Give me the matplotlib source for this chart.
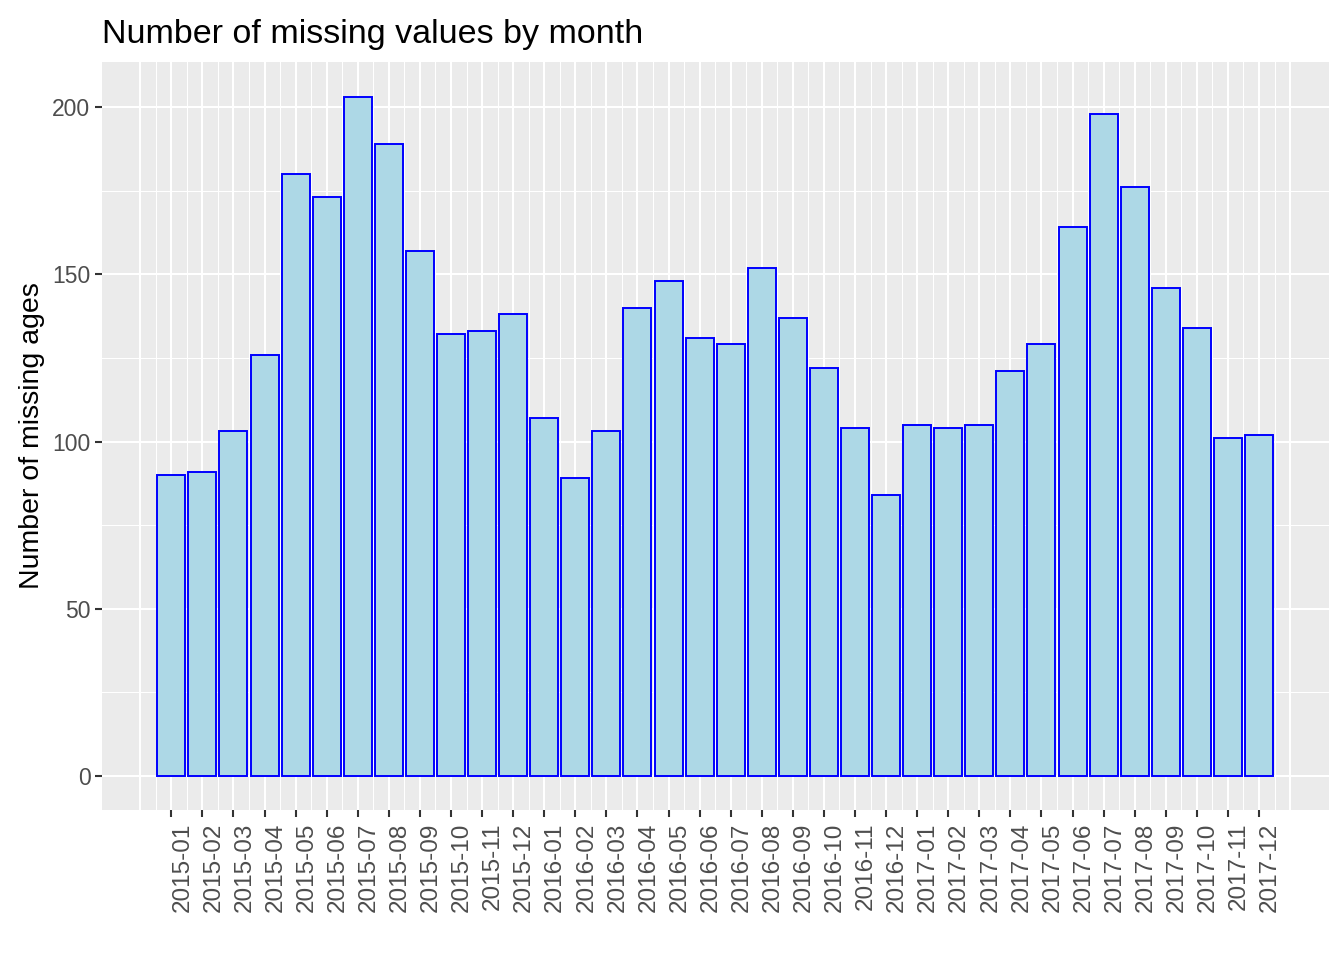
import numpy as np
import matplotlib
matplotlib.use("Agg")
import matplotlib.pyplot as plt

months = [f"{y}-{m:02d}" for y in (2015, 2016, 2017) for m in range(1, 13)]
missing = [90, 91, 103, 126, 180, 173, 203, 189, 157, 132, 133, 138,
           107, 89, 103, 140, 148, 131, 129, 152, 137, 122, 104, 84,
           105, 104, 105, 121, 129, 164, 198, 176, 146, 134, 101, 102]

plt.rcParams['font.family'] = ['Liberation Sans', 'DejaVu Sans']

fig = plt.figure(figsize=(13.44, 9.6), dpi=100)
ax = fig.add_axes([0.0759, 0.15625, 0.9129, 0.77917])
ax.set_facecolor('#EBEBEB')

pos = np.arange(1, len(months) + 1)
ax.bar(pos, missing, width=0.9, color='#ADD8E6', edgecolor='#0000FF',
       linewidth=1.4, zorder=3)

# grid lines like ggplot's grey theme
for x in np.arange(0, 37.5, 1.0):
    ax.axvline(x, color='white', lw=1.5, zorder=1)
for x in np.arange(0.5, 37, 1.0):
    ax.axvline(x, color='white', lw=0.75, zorder=1)
for y in range(0, 201, 50):
    ax.axhline(y, color='white', lw=1.5, zorder=1)
for y in range(25, 201, 50):
    ax.axhline(y, color='white', lw=0.75, zorder=1)

ax.set_xlim(-1.23, 38.25)
ax.set_ylim(-10.16, 213.45)

ax.set_xticks(pos)
ax.set_xticklabels(months, rotation=90, fontsize=17.5, color='#4D4D4D', ha='left')
ax.set_yticks([0, 50, 100, 150, 200])
ax.set_yticklabels(['0', '50', '100', '150', '200'], fontsize=16.5, color='#4D4D4D')
ax.tick_params(axis='both', length=5.3, width=1.5, color='#333333', pad=3)
ax.tick_params(axis='x', pad=4)

for s in ax.spines.values():
    s.set_visible(False)

ax.set_ylabel('Number of missing ages', fontsize=20.5, color='black', labelpad=5)
ax.set_title('Number of missing values by month', fontsize=24.5, loc='left',
             x=0.0, pad=14)

fig.savefig('out.png', dpi=100)
